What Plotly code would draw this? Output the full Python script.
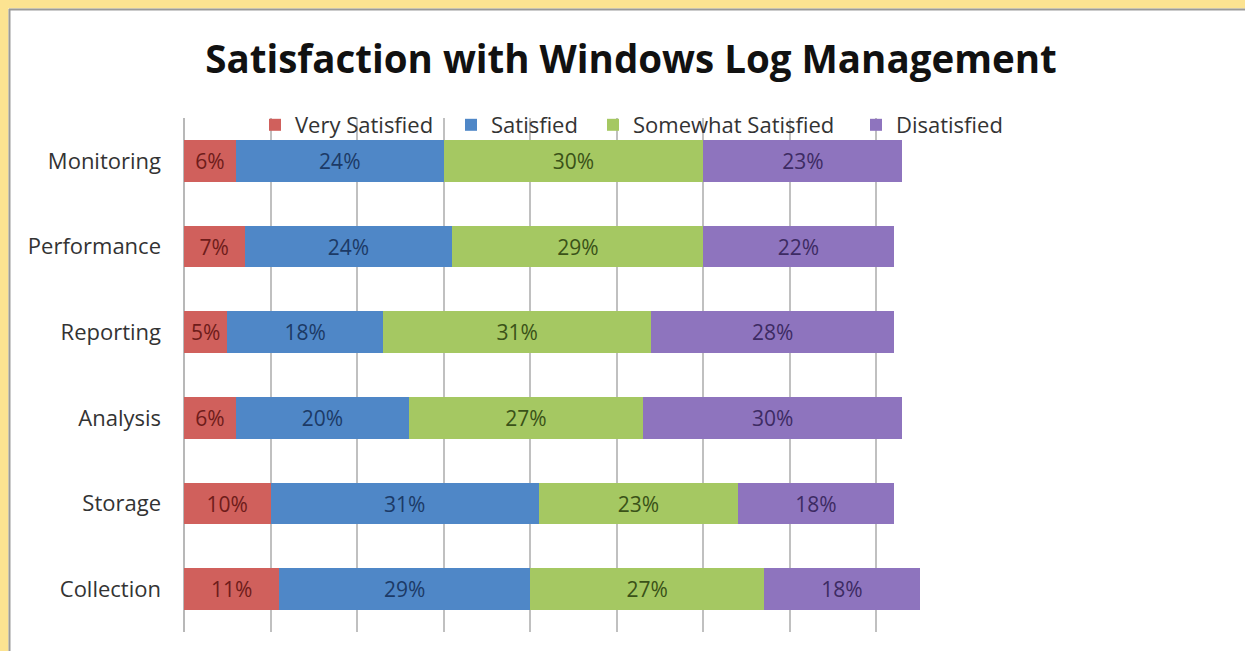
import plotly.graph_objects as go

categories = ["Collection", "Storage", "Analysis", "Reporting", "Performance", "Monitoring"]
series_names = ["Very Satisfied", "Satisfied", "Somewhat Satisfied", "Disatisfied"]
very_satisfied = [11, 10, 6, 5, 7, 6]
satisfied = [29, 31, 20, 18, 24, 24]
somewhat_satisfied = [27, 23, 27, 31, 29, 30]
disatisfied = [18, 18, 30, 28, 22, 23]

series_values = [very_satisfied, satisfied, somewhat_satisfied, disatisfied]
bar_colors = ["#D0605C", "#4F87C7", "#A5C862", "#8E74BE"]
text_colors = ["#6E1C1A", "#1C3A66", "#3A5218", "#3D2B63"]
legend_text_px = [295, 491, 633, 896]

W, H = 1245, 651
ML, MR, MT, MB = 184, 282, 118, 19
PW, PH = W - ML - MR, H - MT - MB

def px_x(p):
    return (p - ML) / PW

def px_y(p):
    return 1 - (p - MT) / PH

FONT = "Open Sans"

fig = go.Figure()
legend_ids = ["legend", "legend2", "legend3", "legend4"]
for name, vals, c, tc, lid in zip(series_names, series_values, bar_colors, text_colors, legend_ids):
    fig.add_trace(go.Bar(
        y=categories, x=vals, name=name, orientation="h",
        marker=dict(color=c, line=dict(width=0)),
        text=[f"{v}%" for v in vals], textposition="inside",
        insidetextanchor="middle", textangle=0,
        textfont=dict(color=tc, size=21, family=FONT),
        cliponaxis=False, legend=lid, showlegend=True,
    ))

shapes = [
    dict(type="rect", xref="paper", yref="paper", x0=px_x(0), x1=px_x(W), y0=px_y(0), y1=px_y(8.5),
         fillcolor="#FCE391", line=dict(width=0), layer="below"),
    dict(type="rect", xref="paper", yref="paper", x0=px_x(0), x1=px_x(8.5), y0=px_y(0), y1=px_y(H),
         fillcolor="#FCE391", line=dict(width=0), layer="below"),
    dict(type="line", xref="paper", yref="paper", x0=px_x(9), x1=px_x(W), y0=px_y(9.5), y1=px_y(9.5),
         line=dict(color="#9A9A9A", width=2), layer="below"),
    dict(type="line", xref="paper", yref="paper", x0=px_x(9.5), x1=px_x(9.5), y0=px_y(9), y1=px_y(H),
         line=dict(color="#9A9A9A", width=2), layer="below"),
]

legend_layouts = {}
for lid, tx in zip(legend_ids, legend_text_px):
    legend_layouts[lid] = dict(
        orientation="h", x=px_x(tx - 40), xanchor="left", y=px_y(125), yanchor="middle",
        bgcolor="rgba(0,0,0,0)", font=dict(size=22, color="#333333", family=FONT),
        itemwidth=30, visible=True)

fig.update_layout(
    width=W, height=H,
    margin=dict(l=ML, r=MR, t=MT, b=MB),
    paper_bgcolor="white", plot_bgcolor="white",
    barmode="stack", bargap=0.51, showlegend=True,
    font=dict(family=FONT, color="#333333"),
    title=dict(text="<b>Satisfaction with Windows Log Management</b>",
               x=631 / W, xanchor="center", y=1 - 60 / H, yanchor="middle",
               font=dict(size=38.5, color="#111111", family=FONT)),
    xaxis=dict(range=[0, 90], dtick=10, tick0=0, showticklabels=False, showgrid=True,
               gridcolor="#C0C0C0", gridwidth=1.5, zeroline=True, zerolinecolor="#B8B8B8",
               zerolinewidth=1.5, showline=False, fixedrange=True),
    yaxis=dict(categoryorder="array", categoryarray=categories, showgrid=False,
               tickfont=dict(size=22, color="#333333", family=FONT), ticks="",
               ticklabelstandoff=22, showline=False, zeroline=False),
    shapes=shapes,
    **legend_layouts,
)

fig.write_html("out.html", config={"displayModeBar": False})

# remove the default body margin so the figure sits at the page origin
with open("out.html", "r", encoding="utf-8") as f:
    html = f.read()
html = html.replace("<head>", "<head><style>html,body{margin:0;padding:0;overflow:hidden;}</style>", 1)
with open("out.html", "w", encoding="utf-8") as f:
    f.write(html)
